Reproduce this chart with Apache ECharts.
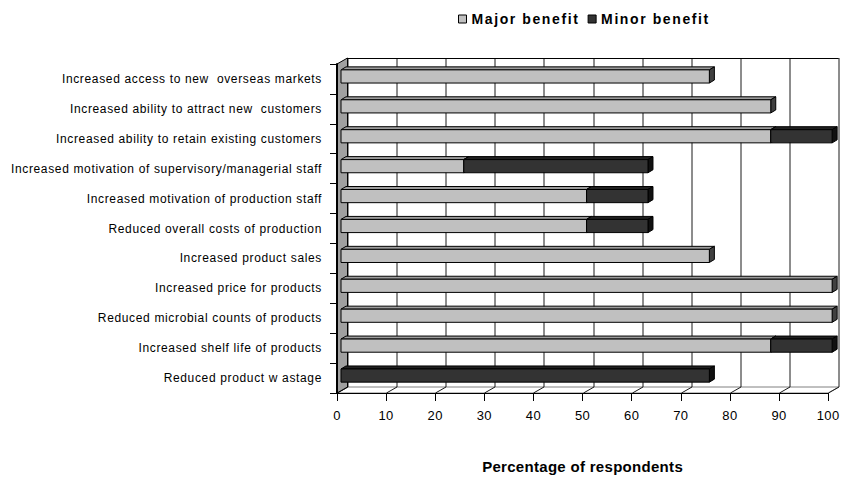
<!DOCTYPE html>
<html>
<head>
<meta charset="utf-8">
<script src="https://cdn.jsdelivr.net/npm/echarts@6/dist/echarts.min.js"></script>
<style>
  html, body { margin: 0; padding: 0; background: #fff; }
  #chart { width: 842px; height: 479px; }
  /* wide, Excel-like letter spacing per text size */
  #chart text[style*="12px"] { letter-spacing: 0.65px; }
  #chart text[style*="13px"] { letter-spacing: 0.4px; }
  #chart text[style*="14px"] { letter-spacing: 1.6px; }
  #chart text[style*="15px"] { letter-spacing: 0.3px; }
</style>
</head>
<body>
<div id="chart"></div>
<script>
// Benefit categories, top to bottom
const categories = [
  'Increased access to new  overseas markets',
  'Increased ability to attract new  customers',
  'Increased ability to retain existing customers',
  'Increased motivation of supervisory/managerial staff',
  'Increased motivation of production staff',
  'Reduced overall costs of production',
  'Increased product sales',
  'Increased price for products',
  'Reduced microbial counts of products',
  'Increased shelf life of products',
  'Reduced product w astage'
];

// Percentage of respondents per category
const majorBenefit = [75, 87.5, 87.5, 25, 50, 50, 75, 100, 100, 87.5, 0];
const minorBenefit = [0, 0, 12.5, 37.5, 12.5, 12.5, 0, 0, 0, 12.5, 75];

// Value axis ticks
const xTicks = [0, 10, 20, 30, 40, 50, 60, 70, 80, 90, 100];

const seriesNames = ['Major benefit', 'Minor benefit'];
const axisTitle = 'Percentage of respondents';

// 3-D look: depth of the walls and placement/depth of the bars
const WALL_DX = 10.5, WALL_DY = -6;
const BAR_DX = 4, BAR_DY = -2.5;
const BAR_DEPTH_X = 5, BAR_DEPTH_Y = -3;

const FONT = '"Liberation Sans", Arial, sans-serif';

const faces = {
  major: { front: '#c0c0c0', top: '#9c9c9c', side: '#404040' },
  minor: { front: '#333333', top: '#202020', side: '#111111' }
};

function renderWalls(params, api) {
  const cs = params.coordSys;
  const left = cs.x, top = cs.y, right = cs.x + cs.width, bottom = cs.y + cs.height;
  const children = [];
  // back wall
  children.push({ type: 'rect', shape: { x: left + WALL_DX, y: top + WALL_DY, width: cs.width, height: cs.height },
    style: { fill: '#ffffff', stroke: null } });
  // floor
  children.push({ type: 'polygon', shape: { points: [[left, bottom], [right, bottom], [right + WALL_DX, bottom + WALL_DY], [left + WALL_DX, bottom + WALL_DY]] },
    style: { fill: '#ffffff', stroke: '#808080', lineWidth: 1 } });
  // gridlines on the back wall and their traces across the floor
  xTicks.forEach(function (v) {
    const x = Math.round(api.coord([v, 0])[0]) + 0.5;
    children.push({ type: 'line', shape: { x1: x + WALL_DX, y1: top + WALL_DY, x2: x + WALL_DX, y2: bottom + WALL_DY },
      style: { stroke: '#1a1a1a', lineWidth: 1 } });
    children.push({ type: 'line', shape: { x1: x, y1: bottom, x2: x + WALL_DX, y2: bottom + WALL_DY },
      style: { stroke: '#1a1a1a', lineWidth: 1 } });
  });
  // top edge of the back wall
  children.push({ type: 'line', shape: { x1: left + WALL_DX, y1: top + WALL_DY + 0.5, x2: right + WALL_DX, y2: top + WALL_DY + 0.5 },
    style: { stroke: '#000', lineWidth: 1 } });
  // side wall
  children.push({ type: 'polygon', shape: { points: [[left, top], [left + WALL_DX, top + WALL_DY], [left + WALL_DX, bottom + WALL_DY], [left, bottom]] },
    style: { fill: '#a0a0a0', stroke: '#000', lineWidth: 1 } });
  return { type: 'group', children: children };
}

function barRenderer(pal) {
  return function (params, api) {
    const cat = api.value(0), start = api.value(1), end = api.value(2);
    if (end - start <= 0) return null;
    const p0 = api.coord([start, cat]);
    const p1 = api.coord([end, cat]);
    const band = api.size([0, 1])[1];
    const h = band * 0.44;
    const xl = p0[0] + BAR_DX, xr = p1[0] + BAR_DX;
    const yt = p0[1] + BAR_DY - h / 2, yb = yt + h;
    const dx = BAR_DEPTH_X, dy = BAR_DEPTH_Y;
    return {
      type: 'group',
      children: [
        { type: 'polygon', shape: { points: [[xl, yt], [xr, yt], [xr + dx, yt + dy], [xl + dx, yt + dy]] },
          style: { fill: pal.top, stroke: '#000', lineWidth: 1 } },
        { type: 'polygon', shape: { points: [[xr, yt], [xr + dx, yt + dy], [xr + dx, yb + dy], [xr, yb]] },
          style: { fill: pal.side, stroke: '#000', lineWidth: 1 } },
        { type: 'rect', shape: { x: xl, y: yt, width: xr - xl, height: h },
          style: { fill: pal.front, stroke: '#000', lineWidth: 1 } }
      ]
    };
  };
}

const majorData = categories.map(function (c, i) { return [i, 0, majorBenefit[i]]; });
const minorData = categories.map(function (c, i) { return [i, majorBenefit[i], majorBenefit[i] + minorBenefit[i]]; });

const chart = echarts.init(document.getElementById('chart'), null, { renderer: 'svg' });
chart.setOption({
  animation: false,
  backgroundColor: '#ffffff',
  textStyle: { fontFamily: FONT },
  legend: {
    data: seriesNames,
    left: 453, top: 7,
    icon: 'rect', itemWidth: 8, itemHeight: 8, itemGap: 29,
    itemStyle: { borderColor: '#000', borderWidth: 1 },
    textStyle: { fontFamily: FONT, fontWeight: 'bold', fontSize: 14, color: '#000' }
  },
  grid: { left: 337, right: 10, top: 64, bottom: 80, containLabel: false },
  xAxis: {
    type: 'value', min: 0, max: 100, interval: 10,
    name: axisTitle, nameLocation: 'middle', nameGap: 66,
    nameTextStyle: { fontFamily: FONT, fontWeight: 'bold', fontSize: 15, color: '#000' },
    axisLine: { show: true, lineStyle: { color: '#000', width: 1 } },
    axisTick: { show: true, length: 8, lineStyle: { color: '#000' } },
    axisLabel: { fontFamily: FONT, fontSize: 13, color: '#000', margin: 16, showMaxLabel: true },
    splitLine: { show: false }
  },
  yAxis: {
    type: 'category', data: categories, inverse: true,
    axisLine: { show: true, lineStyle: { color: '#000', width: 2 } },
    axisTick: { show: true, length: 7, lineStyle: { color: '#000' } },
    axisLabel: { fontFamily: FONT, fontSize: 12, color: '#000', margin: 15 },
    splitLine: { show: false }
  },
  series: [
    { type: 'custom', name: 'walls', silent: true, z: 0, clip: false,
      renderItem: renderWalls, data: [[0, 0, 0]] },
    { type: 'custom', name: seriesNames[0], z: 2, clip: false,
      itemStyle: { color: faces.major.front, borderColor: '#000' },
      renderItem: barRenderer(faces.major), data: majorData },
    { type: 'custom', name: seriesNames[1], z: 3, clip: false,
      itemStyle: { color: faces.minor.front, borderColor: '#000' },
      renderItem: barRenderer(faces.minor), data: minorData }
  ]
});
</script>
</body>
</html>
